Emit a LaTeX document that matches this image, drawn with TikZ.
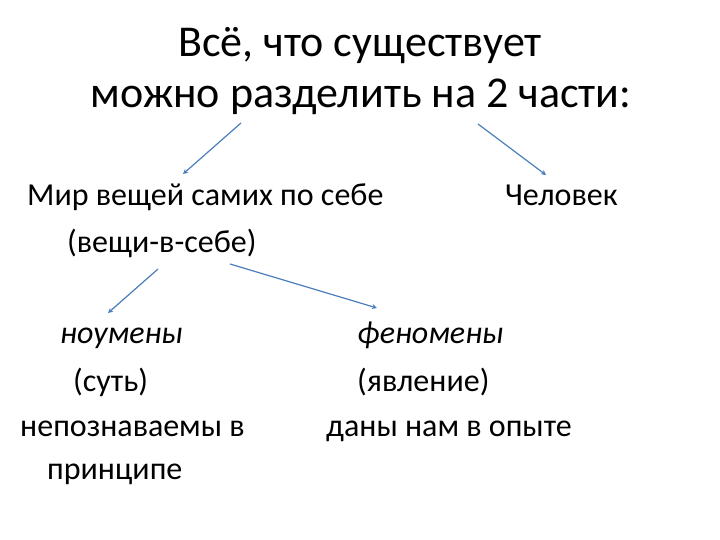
\documentclass[tikz,border=0pt]{standalone}
\usepackage{fontspec}
\setmainfont{Carlito}
\usetikzlibrary{arrows.meta}
\definecolor{arr}{HTML}{4A7EBB}
\tikzset{
  big/.style={font=\fontsize{44}{50}\selectfont, anchor=base, inner sep=0pt},
  txt/.style={font=\fontsize{32}{38}\selectfont, anchor=base west, inner sep=0pt},
  itxt/.style={txt, font=\fontsize{32}{38}\selectfont\itshape},
  con/.style={draw=arr, line width=1.2pt, -{Stealth[length=5pt,width=5pt]}}
}
\begin{document}
\begin{tikzpicture}[x=1pt,y=-1pt]
\useasboundingbox (0,0) rectangle (720,540);
\node[big] (t1) at (360,57) {Всё, что существует};
\node[big] (t2) at (361,108) {можно разделить на 2 части:};
\node[txt] (mir) at (27,206) {Мир вещей самих по себе};
\node[txt] (ch) at (505,206) {Человек};
\node[txt] (vs) at (67,252) {(вещи-в-себе)};
\node[itxt] (nou) at (60,343) {ноумены};
\node[itxt] (fen) at (357,343) {феномены};
\node[txt] (sut) at (73,391) {(суть)};
\node[txt] (yav) at (357,391) {(явление)};
\node[txt] (nep) at (20,436) {непознаваемы в};
\node[txt] (dan) at (326,436) {даны нам в опыте};
\node[txt] (pri) at (47,479) {принципе};
\coordinate (a1) at (241,123); \coordinate (b1) at (183,174);
\coordinate (a2) at (478,124); \coordinate (b2) at (546,175);
\coordinate (a3) at (158,269); \coordinate (b3) at (108,313);
\coordinate (a4) at (230,264); \coordinate (b4) at (377,308);
\draw[con] (a1) -- (b1);
\draw[con] (a2) -- (b2);
\draw[con] (a3) -- (b3);
\draw[con] (a4) -- (b4);
\end{tikzpicture}
\end{document}
